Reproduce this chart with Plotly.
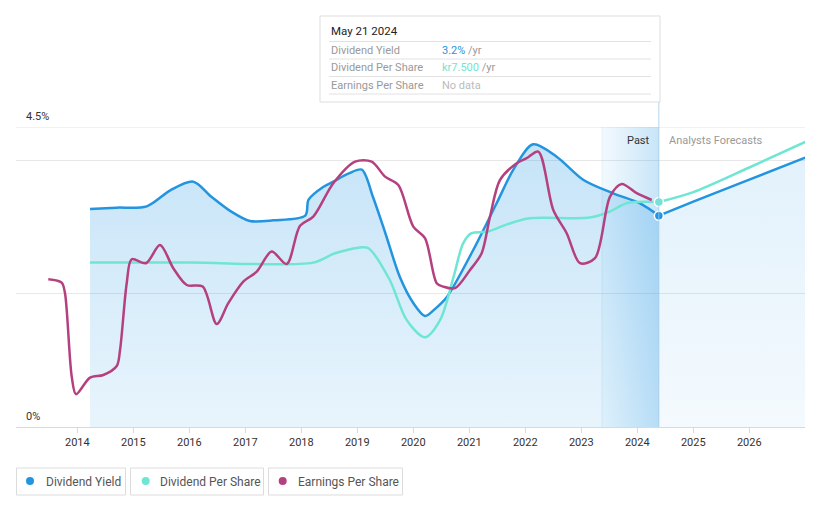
import plotly.graph_objects as go

# ---------------- data ----------------
dy_years = [2014.227, 2014.7, 2015.24, 2015.66, 2016.07, 2016.4, 2016.75, 2017.08, 2017.5,
            2018.07, 2018.13, 2018.39, 2018.57, 2018.84, 2019.08, 2019.28, 2019.5, 2019.76,
            2020.0, 2020.21, 2020.4, 2020.6, 2021.07, 2021.49, 2021.8, 2022.14, 2022.56,
            2023.04, 2023.57, 2024.05, 2024.385]
dy_vals = [3.27, 3.29, 3.31, 3.55, 3.68, 3.45, 3.23, 3.09, 3.10,
           3.17, 3.41, 3.60, 3.68, 3.80, 3.86, 3.45, 2.91, 2.25,
           1.86, 1.665, 1.78, 1.95, 2.655, 3.36, 3.88, 4.24, 4.055,
           3.705, 3.505, 3.355, 3.17]
dy_fc_years = [2024.385, 2025.0, 2026.0, 2027.0]
dy_fc_vals = [3.17, 3.38, 3.71, 4.04]

dps_years = [2014.227, 2016.0, 2018.21, 2018.6, 2019.08, 2019.2, 2019.58, 2019.88, 2020.21, 2020.48,
             2020.72, 2020.89, 2021.04, 2021.31, 2021.7, 2022.08, 2023.15, 2023.51, 2023.81,
             2024.385]
dps_vals = [5.48, 5.48, 5.48, 5.79, 5.99, 5.96, 4.90, 3.57, 2.99, 3.57,
            5.01, 6.12, 6.46, 6.51, 6.77, 6.96, 6.98, 7.18, 7.46,
            7.50]
dps_fc_years = [2024.385, 2025.0, 2026.0, 2027.0]
dps_fc_vals = [7.50, 7.83, 8.65, 9.50]

eps_years = [2013.482, 2013.721, 2013.78, 2013.9, 2013.977, 2014.227, 2014.464, 2014.704,
             2014.763, 2014.882, 2014.971, 2015.227, 2015.477, 2015.714, 2015.954, 2016.239,
             2016.489, 2016.696, 2016.964, 2017.204, 2017.471, 2017.739, 2017.977, 2018.214,
             2018.571, 2018.959, 2019.257, 2019.495, 2019.732, 2020.0, 2020.209, 2020.418,
             2020.536, 2020.745, 2021.013, 2021.221, 2021.37, 2021.548, 2021.846, 2022.025,
             2022.232, 2022.5, 2022.739, 2022.977, 2023.245, 2023.513, 2023.721, 2023.989,
             2024.257]
eps_vals = [7.39, 7.22, 6.69, 2.52, 1.64, 2.47, 2.60, 3.05,
            3.85, 7.19, 8.39, 8.19, 9.10, 7.94, 7.10, 7.02,
            5.15, 6.19, 7.27, 7.77, 8.77, 8.15, 10.06, 10.52,
            12.19, 13.27, 13.27, 12.52, 12.10, 10.02, 9.44, 7.19,
            7.02, 6.94, 7.85, 8.69, 10.52, 12.35, 13.19, 13.44,
            13.77, 10.85, 9.69, 8.19, 8.44, 11.52, 12.15, 11.69,
            11.35]

x_ticks = list(range(2014, 2027))
x_ticklabels = [str(y) for y in x_ticks]
past_start = 2023.37
today = 2024.385

# ---------------- styles ----------------
W, H = 821, 508
L, R, T, B = 16, 16, 127, 81
PW, PH = W - L - R, H - T - B
C_DY = "#2394df"
C_DPS = "#6fe6d3"
C_EPS = "#b5407f"
FONT = "Roboto"
SM = 0.85


def px(x):
    return (x - L) / PW


def py(y):
    return (H - B - y) / PH


fig = go.Figure()

# area under dividend yield (past)
fig.add_trace(go.Scatter(
    x=dy_years, y=dy_vals, mode="lines", line=dict(width=0, shape="spline", smoothing=SM),
    fill="tozeroy",
    fillgradient=dict(type="vertical", start=0, stop=4.5,
                      colorscale=[[0, "rgba(33,150,228,0.10)"], [1, "rgba(33,150,228,0.27)"]]),
    hoverinfo="skip", showlegend=False))
# area under dividend yield (forecast)
fig.add_trace(go.Scatter(
    x=dy_fc_years, y=dy_fc_vals, mode="lines", line=dict(width=0, shape="spline", smoothing=SM),
    fill="tozeroy",
    fillgradient=dict(type="vertical", start=0, stop=4.5,
                      colorscale=[[0, "rgba(33,150,228,0.05)"], [1, "rgba(33,150,228,0.14)"]]),
    hoverinfo="skip", showlegend=False))
# past band
fig.add_trace(go.Scatter(
    x=[past_start, today, today, past_start, past_start], y=[0, 0, 4.5, 4.5, 0],
    mode="lines", line=dict(width=0), fill="toself",
    fillgradient=dict(type="horizontal", start=past_start, stop=today,
                      colorscale=[[0, "rgba(33,150,228,0.05)"], [1, "rgba(33,150,228,0.25)"]]),
    hoverinfo="skip", showlegend=False))

# lines
fig.add_trace(go.Scatter(x=eps_years, y=eps_vals, yaxis="y3", mode="lines",
                         line=dict(color=C_EPS, width=2.5, shape="spline", smoothing=SM),
                         hoverinfo="skip", showlegend=False))
fig.add_trace(go.Scatter(x=dps_years, y=dps_vals, yaxis="y2", mode="lines",
                         line=dict(color=C_DPS, width=2.5, shape="spline", smoothing=SM),
                         hoverinfo="skip", showlegend=False))
fig.add_trace(go.Scatter(x=dps_fc_years, y=dps_fc_vals, yaxis="y2", mode="lines",
                         line=dict(color=C_DPS, width=2.5, shape="spline", smoothing=SM),
                         hoverinfo="skip", showlegend=False))
fig.add_trace(go.Scatter(x=dy_years, y=dy_vals, mode="lines",
                         line=dict(color=C_DY, width=2.5, shape="spline", smoothing=SM),
                         hoverinfo="skip", showlegend=False))
fig.add_trace(go.Scatter(x=dy_fc_years, y=dy_fc_vals, mode="lines",
                         line=dict(color=C_DY, width=2.5, shape="spline", smoothing=SM),
                         hoverinfo="skip", showlegend=False))
# end markers
fig.add_trace(go.Scatter(x=[dps_fc_years[0]], y=[dps_fc_vals[0]], yaxis="y2", mode="markers",
                         marker=dict(color=C_DPS, size=9, line=dict(color="white", width=1.5)),
                         hoverinfo="skip", showlegend=False))
fig.add_trace(go.Scatter(x=[dy_fc_years[0]], y=[dy_fc_vals[0]], mode="markers",
                         marker=dict(color=C_DY, size=9, line=dict(color="white", width=1.5)),
                         hoverinfo="skip", showlegend=False))

shapes = []
annotations = []

# top line at 4.5%
shapes.append(dict(type="line", xref="paper", yref="y", x0=0, x1=1, y0=4.5, y1=4.5,
                   line=dict(color="#e3e3e3", width=1), layer="below"))
# vertical lines: today + past-band edge
shapes.append(dict(type="line", xref="x", yref="paper", x0=today, x1=today, y0=0, y1=py(102),
                   line=dict(color="rgba(160,200,232,0.8)", width=1)))
shapes.append(dict(type="line", xref="x", yref="paper", x0=past_start, x1=past_start, y0=0, y1=1,
                   line=dict(color="rgba(33,150,228,0.10)", width=1)))

# y labels
annotations.append(dict(text="4.5%", xref="paper", yref="paper", x=px(24), y=py(116),
                        xanchor="left", yanchor="middle", showarrow=False,
                        font=dict(size=11, color="#333", family=FONT)))
annotations.append(dict(text="0%", xref="paper", yref="paper", x=px(24), y=py(416),
                        xanchor="left", yanchor="middle", showarrow=False,
                        font=dict(size=11, color="#333", family=FONT)))
# Past / Analysts Forecasts
annotations.append(dict(text="Past", xref="paper", yref="paper", x=px(652), y=py(140),
                        xanchor="right", yanchor="middle", showarrow=False,
                        font=dict(size=11, color="#333", family=FONT)))
annotations.append(dict(text="Analysts Forecasts", xref="paper", yref="paper", x=px(667), y=py(140),
                        xanchor="left", yanchor="middle", showarrow=False,
                        font=dict(size=11, color="#999", family=FONT)))

# tooltip box
shapes.append(dict(type="rect", xref="paper", yref="paper", x0=px(320), x1=px(660), y0=py(102), y1=py(16),
                   line=dict(color="#dddddd", width=1), fillcolor="white"))
for yy in [41.5, 59, 76.5, 94]:
    shapes.append(dict(type="line", xref="paper", yref="paper", x0=px(329), x1=px(651), y0=py(yy), y1=py(yy),
                       line=dict(color="#e2e2e2", width=1)))
annotations.append(dict(text="May 21 2024", xref="paper", yref="paper", x=px(329), y=py(31),
                        xanchor="left", yanchor="middle", showarrow=False,
                        font=dict(size=11.5, color="#222", family=FONT)))
rows = [("Dividend Yield", "<span style='color:%s'>3.2%%</span> /yr" % C_DY, 50),
        ("Dividend Per Share", "<span style='color:%s'>kr7.500</span> /yr" % C_DPS, 67.5),
        ("Earnings Per Share", "<span style='color:#bbbbbb'>No data</span>", 85)]
for lab, val, yy in rows:
    annotations.append(dict(text=lab, xref="paper", yref="paper", x=px(329), y=py(yy),
                            xanchor="left", yanchor="middle", showarrow=False,
                            font=dict(size=11, color="#999", family=FONT)))
    annotations.append(dict(text=val, xref="paper", yref="paper", x=px(440), y=py(yy),
                            xanchor="left", yanchor="middle", showarrow=False,
                            font=dict(size=11, color="#999", family=FONT)))

# legend boxes
legend_items = [("Dividend Yield", C_DY, 16.5, 125.5, 30, 44),
                ("Dividend Per Share", C_DPS, 130.5, 263.5, 145.7, 158.3),
                ("Earnings Per Share", C_EPS, 268.5, 402.5, 282.7, 296)]
for lab, col, bx0, bx1, dx, tx in legend_items:
    shapes.append(dict(type="rect", xref="paper", yref="paper", x0=px(bx0), x1=px(bx1),
                       y0=py(495), y1=py(468), line=dict(color="#dcdcdc", width=1), fillcolor="white"))
    shapes.append(dict(type="circle", xref="paper", yref="paper", x0=px(dx - 4), x1=px(dx + 4),
                       y0=py(485), y1=py(477), line=dict(width=0), fillcolor=col))
    annotations.append(dict(text=lab, xref="paper", yref="paper", x=px(tx), y=py(481.5),
                            xanchor="left", yanchor="middle", showarrow=False,
                            font=dict(size=12, color="#555", family=FONT)))

fig.update_layout(
    width=W, height=H, margin=dict(l=L, r=R, t=T, b=B),
    paper_bgcolor="white", plot_bgcolor="white",
    font=dict(family=FONT, size=11, color="#333"),
    showlegend=False, hovermode=False,
    xaxis=dict(range=[2012.905, 2026.995], tickvals=x_ticks, ticktext=x_ticklabels,
               showgrid=False, zeroline=False, showline=True, linecolor="#d9d9d9", linewidth=1,
               ticks="outside", ticklen=5, tickcolor="#d9d9d9",
               tickfont=dict(size=11, color="#333", family=FONT)),
    yaxis=dict(range=[0, 4.5], tickvals=[2, 4], showticklabels=False, showgrid=True,
               gridcolor="#e8e8e8", zeroline=False, showline=False, fixedrange=True),
    yaxis2=dict(range=[0, 10.0], overlaying="y", visible=False, showgrid=False),
    yaxis3=dict(range=[0, 15.0], overlaying="y", visible=False, showgrid=False),
    shapes=shapes, annotations=annotations,
)

fig.write_html("out.html", config={"displayModeBar": False},
               post_script="document.body.style.margin='0';document.body.style.overflow='hidden';")
